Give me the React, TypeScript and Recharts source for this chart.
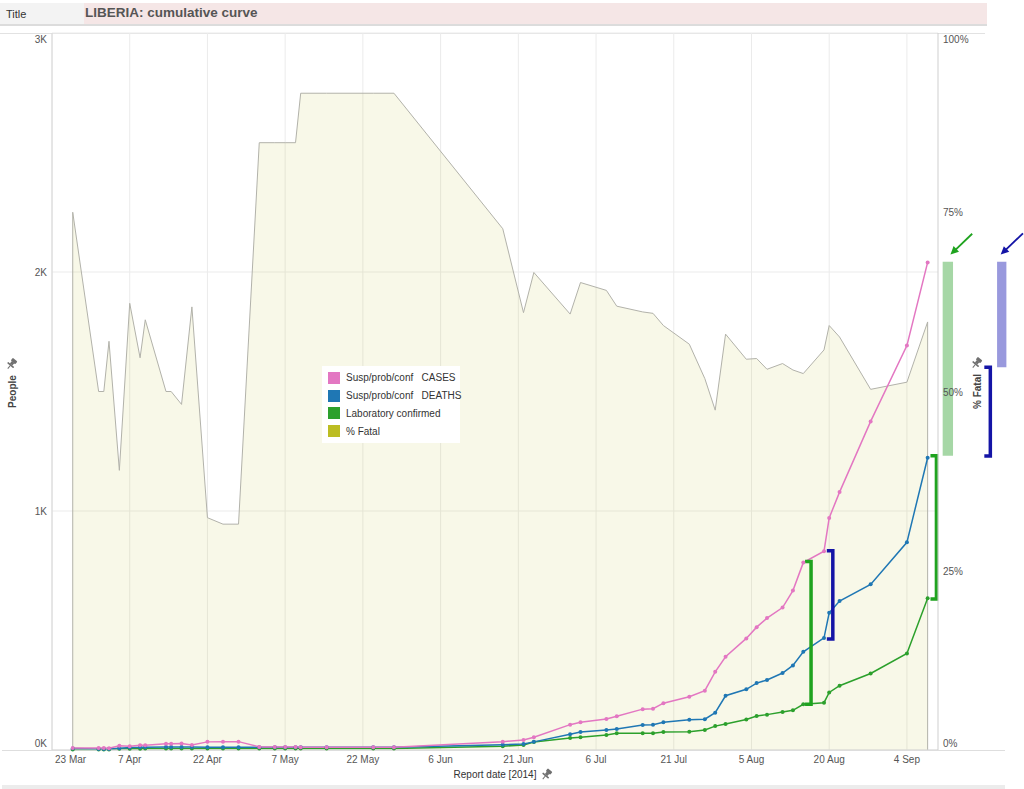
import React from 'react'
import {
  ComposedChart,
  Area,
  Line,
  XAxis,
  YAxis,
  CartesianGrid,
  Legend,
  ReferenceLine,
  ReferenceArea,
} from 'recharts'

// WHO situation-report dates for Liberia (2014)
const reportDates = [
  '2014-03-27', '2014-04-01', '2014-04-02', '2014-04-03', '2014-04-05', '2014-04-07', '2014-04-09',
  '2014-04-10', '2014-04-14', '2014-04-15', '2014-04-17', '2014-04-19', '2014-04-22', '2014-04-25',
  '2014-04-28', '2014-05-02', '2014-05-05', '2014-05-07', '2014-05-09', '2014-05-10', '2014-05-15',
  '2014-05-24', '2014-05-28', '2014-06-18', '2014-06-22', '2014-06-24', '2014-07-01', '2014-07-03',
  '2014-07-08', '2014-07-10', '2014-07-15', '2014-07-17', '2014-07-19', '2014-07-24', '2014-07-27',
  '2014-07-29', '2014-07-31', '2014-08-04', '2014-08-06', '2014-08-08', '2014-08-11', '2014-08-13',
  '2014-08-15', '2014-08-19', '2014-08-20', '2014-08-22', '2014-08-28', '2014-09-04', '2014-09-08',
]

const cases = [
  8, 8, 8, 7, 18, 16, 20, 20, 26, 26, 27, 21, 34, 35, 35, 13, 13, 13, 13, 12, 12, 12, 12,
  35, 42, 53, 106, 116, 130, 141, 171, 173, 196, 223, 248, 327, 390, 467, 514, 552, 596, 667,
  784, 832, 971, 1079, 1375, 1692, 2040,
]

const deaths = [
  6, 4, 4, 4, 7, 10, 11, 12, 13, 13, 13, 13, 11, 11, 11, 11, 11, 11, 11, 11, 11, 11, 11,
  22, 25, 34, 66, 75, 84, 88, 105, 106, 116, 127, 129, 156, 227, 254, 280, 293, 322, 354,
  411, 469, 574, 623, 693, 869, 1223,
]

const labConfirmed = [
  2, 2, 2, 2, 5, 5, 5, 6, 6, 6, 6, 6, 6, 6, 6, 6, 6, 6, 6, 6, 6, 6, 6,
  16, 21, 33, 50, 53, 63, 70, 70, 70, 75, 76, 84, 100, 109, 128, 142, 148, 159, 166,
  191, 198, 241, 269, 320, 404, 635,
]

const pctFatal = [
  75, 50, 50, 57, 39, 62.3, 54.7, 60, 50, 50, 48.2, 61.8, 32.4, 31.5, 31.5, 84.7, 84.7, 84.7, 84.7,
  91.6, 91.6, 91.6, 91.6, 72.7, 61, 66.6, 60.8, 65.2, 64.1, 61.9, 61.1, 60.9, 59.2, 56.6, 51.8,
  47.4, 58, 54.5, 54.6, 53.1, 53.9, 53, 52.5, 55.8, 59.2, 57.6, 50.3, 51.3, 59.7,
]

const seriesNames = ['Susp/prob/conf   CASES', 'Susp/prob/conf   DEATHS', 'Laboratory confirmed', '% Fatal']
const seriesColors = ['#e377c2', '#1f77b4', '#2ca02c', '#bcbd22']

const axisStart = '2014-03-23'
const dateTickDays = [0, 15, 30, 45, 60, 75, 90, 105, 120, 135, 150, 165]
const dateTickLabels = ['23 Mar', '7 Apr', '22 Apr', '7 May', '22 May', '6 Jun', '21 Jun', '6 Jul', '21 Jul', '5 Aug', '20 Aug', '4 Sep']
const peopleTicks = [0, 1000, 2000, 3000]
const peopleTickLabels = ['0K', '1K', '2K', '3K']
const pctTicks = [0, 25, 50, 75, 100]
const pctTickLabels = ['0%', '25%', '50%', '75%', '100%']

const dayOf = (d: string) => (Date.parse(d) - Date.parse(axisStart)) / 86400000

const data = reportDates.map((d, i) => ({
  day: dayOf(d),
  cases: cases[i],
  deaths: deaths[i],
  lab: labConfirmed[i],
  fatal: pctFatal[i],
}))

const firstDay = data[0].day
const lastDay = data[data.length - 1].day

const FONT = '"Liberation Sans", Arial, sans-serif'
const GREEN_MARK = '#1fa31f'
const BLUE_MARK = '#1414a6'

function Pin({ x, y }: { x: number; y: number }) {
  return (
    <g transform={`translate(${x},${y}) rotate(40)`} fill="#707070">
      <rect x={-3} y={-5} width={6} height={3.5} rx={1} />
      <rect x={-1.6} y={-1.8} width={3.2} height={3.2} />
      <rect x={-4} y={1.2} width={8} height={1.6} rx={0.5} />
      <rect x={-0.5} y={2.6} width={1} height={4} />
    </g>
  )
}

function DateTick({ x, y, payload }: any) {
  const i = dateTickDays.indexOf(payload.value)
  const first = i === 0
  return (
    <text x={first ? x + 3 : x} y={y} dy={9} textAnchor={first ? 'start' : 'middle'} fontSize={10} fill="#555" fontFamily={FONT}>
      {dateTickLabels[i]}
    </text>
  )
}

const valueTick = (values: number[], labels: string[], anchor: 'start' | 'end') => ({ x, y, payload }: any) => {
  const i = values.indexOf(payload.value)
  const dy = i === values.length - 1 ? 10 : i === 0 ? -3 : 4
  return (
    <text x={x} y={y} dy={dy} textAnchor={anchor} fontSize={10} fill="#555" fontFamily={FONT}>
      {labels[i]}
    </text>
  )
}

function PeopleLabel({ viewBox }: any) {
  const cx = viewBox.x + 16
  const cy = viewBox.y + viewBox.height / 2
  return (
    <g>
      <text x={cx} y={cy} transform={`rotate(-90 ${cx} ${cy})`} textAnchor="middle" fontSize={10} fontWeight="bold" fill="#444" fontFamily={FONT}>
        People
      </text>
      <Pin x={cx - 4} y={cy - 28} />
    </g>
  )
}

function FatalLabel({ viewBox }: any) {
  const cx = viewBox.x + 43
  const cy = viewBox.y + viewBox.height / 2
  return (
    <g>
      <text x={cx} y={cy} transform={`rotate(-90 ${cx} ${cy})`} textAnchor="middle" fontSize={10} fontWeight="bold" fill="#444" fontFamily={FONT}>
        % Fatal
      </text>
      <Pin x={cx - 4} y={cy - 29} />
    </g>
  )
}

function DateLabel({ viewBox }: any) {
  const cx = viewBox.x + viewBox.width / 2
  const y = viewBox.y + 28
  return (
    <g>
      <text x={cx} y={y} textAnchor="middle" fontSize={10} fill="#333" fontFamily={FONT}>
        Report date [2014]
      </text>
      <Pin x={cx + 52} y={y - 4} />
    </g>
  )
}

function LegendBox() {
  return (
    <div style={{ background: '#fff', padding: '3px 6px', fontFamily: FONT, fontSize: 10, color: '#333' }}>
      {seriesNames.map((n, i) => (
        <div key={n} style={{ display: 'flex', alignItems: 'center', height: 17.8 }}>
          <span style={{ width: 12, height: 12, background: seriesColors[i], marginRight: 6, flex: 'none' }} />
          <span style={{ whiteSpace: 'pre' }}>{n}</span>
        </div>
      ))}
    </div>
  )
}

const bracket = (color: string) => (p: any) => (
  <path d={`M${p.x1 - 6},${p.y1} H${p.x1} V${p.y2} H${p.x1 - 6}`} stroke={color} strokeWidth={3.5} fill="none" />
)

const arrow = (color: string) => (p: any) => {
  const a = Math.atan2(p.y2 - p.y1, p.x2 - p.x1)
  const L = 9
  const s = 0.45
  const pts = [
    [p.x2, p.y2],
    [p.x2 - L * Math.cos(a - s), p.y2 - L * Math.sin(a - s)],
    [p.x2 - L * Math.cos(a + s), p.y2 - L * Math.sin(a + s)],
  ]
  return (
    <g>
      <line x1={p.x1} y1={p.y1} x2={p.x2 - 4 * Math.cos(a)} y2={p.y2 - 4 * Math.sin(a)} stroke={color} strokeWidth={1.8} />
      <polygon points={pts.map((q) => q.join(',')).join(' ')} fill={color} />
    </g>
  )
}

export default function App() {
  return (
    <div style={{ position: 'relative', width: 1024, height: 789, background: '#fff', fontFamily: FONT, overflow: 'hidden' }}>
      <style>{'body{margin:0}'}</style>
      {/* dashboard title strip */}
      <div style={{ position: 'absolute', left: 0, top: 3, width: 84, height: 21, background: '#f3f3f3', fontSize: 11, color: '#333', lineHeight: '22px', paddingLeft: 6, boxSizing: 'border-box' }}>
        Title
      </div>
      <div style={{ position: 'absolute', left: 84, top: 3, width: 903, height: 21, background: '#f5e6e6', fontSize: 13.5, fontWeight: 'bold', color: '#555', lineHeight: '20px', paddingLeft: 1, boxSizing: 'border-box' }}>
        LIBERIA: cumulative curve
      </div>
      <div style={{ position: 'absolute', left: 0, top: 24, width: 987, height: 2, background: '#dcdcdc' }} />
      <div style={{ position: 'absolute', left: 0, top: 33, width: 985, height: 1, background: '#e2e2e2' }} />
      <div style={{ position: 'absolute', left: 2, top: 750, width: 1003, height: 1, background: '#dedede' }} />
      <div style={{ position: 'absolute', left: 2, top: 785, width: 1003, height: 4, background: '#ececec' }} />

      <div style={{ position: 'absolute', left: 0, top: 0 }}>
        <ComposedChart width={1024} height={789} data={data} margin={{ top: 33, right: 34, bottom: 3, left: 0 }}>
          <CartesianGrid yAxisId="people" stroke="#ebebeb" horizontalValues={peopleTicks} verticalValues={dateTickDays} />
          <XAxis
            dataKey="day"
            type="number"
            domain={[0, 171]}
            ticks={dateTickDays}
            interval={0}
            height={36}
            tickSize={4}
            tickMargin={0}
            tickLine={false}
            axisLine={{ stroke: '#d6d6d6' }}
            tick={<DateTick />}
            label={<DateLabel />}
          />
          <YAxis
            yAxisId="people"
            domain={[0, 3000]}
            ticks={peopleTicks}
            interval={0}
            width={52}
            tickSize={5}
            tickMargin={0}
            tickLine={false}
            axisLine={{ stroke: '#d6d6d6' }}
            tick={valueTick(peopleTicks, peopleTickLabels, 'end')}
            label={<PeopleLabel />}
          />
          <YAxis
            yAxisId="pct"
            orientation="right"
            domain={[0, 100]}
            ticks={pctTicks}
            interval={0}
            width={52}
            tickSize={5}
            tickMargin={0}
            tickLine={false}
            axisLine={{ stroke: '#cfcfcf' }}
            tick={valueTick(pctTicks, pctTickLabels, 'start')}
            label={<FatalLabel />}
          />

          <Area
            yAxisId="pct"
            type="linear"
            dataKey="fatal"
            name={seriesNames[3]}
            stroke="#b2b2aa"
            strokeWidth={1}
            fill={seriesColors[3]}
            fillOpacity={0.1}
            isAnimationActive={false}
            dot={false}
            activeDot={false}
          />
          <ReferenceLine yAxisId="pct" segment={[{ x: firstDay, y: 0 }, { x: firstDay, y: pctFatal[0] }]} stroke="#b2b2aa" strokeWidth={1} />
          <ReferenceLine yAxisId="pct" segment={[{ x: lastDay, y: 0 }, { x: lastDay, y: pctFatal[pctFatal.length - 1] }]} stroke="#b2b2aa" strokeWidth={1} />

          <Line yAxisId="people" type="linear" dataKey="lab" name={seriesNames[2]} stroke={seriesColors[2]} strokeWidth={1.5} dot={{ r: 2, fill: seriesColors[2], stroke: 'none' }} activeDot={false} isAnimationActive={false} />
          <Line yAxisId="people" type="linear" dataKey="deaths" name={seriesNames[1]} stroke={seriesColors[1]} strokeWidth={1.5} dot={{ r: 2, fill: seriesColors[1], stroke: 'none' }} activeDot={false} isAnimationActive={false} />
          <Line yAxisId="people" type="linear" dataKey="cases" name={seriesNames[0]} stroke={seriesColors[0]} strokeWidth={1.5} dot={{ r: 2, fill: seriesColors[0], stroke: 'none' }} activeDot={false} isAnimationActive={false} />

          {/* annotation brackets, bars and arrows */}
          <ReferenceLine yAxisId="people" ifOverflow="visible" segment={[{ x: 146.5, y: 789 }, { x: 146.5, y: 191 }]} shape={bracket(GREEN_MARK)} />
          <ReferenceLine yAxisId="people" ifOverflow="visible" segment={[{ x: 150.7, y: 834 }, { x: 150.7, y: 464 }]} shape={bracket(BLUE_MARK)} />
          <ReferenceLine yAxisId="people" ifOverflow="visible" segment={[{ x: 170.7, y: 1231 }, { x: 170.7, y: 632 }]} shape={bracket(GREEN_MARK)} />
          <ReferenceArea yAxisId="people" ifOverflow="visible" x1={171.9} x2={173.9} y1={1231} y2={2043} fill="#2ca02c" fillOpacity={0.42} stroke="none" />
          <ReferenceArea yAxisId="people" ifOverflow="visible" x1={182.4} x2={184.2} y1={1601} y2={2043} fill="#3333bb" fillOpacity={0.5} stroke="none" />
          <ReferenceLine yAxisId="people" ifOverflow="visible" segment={[{ x: 181.1, y: 1601 }, { x: 181.1, y: 1230 }]} shape={bracket(BLUE_MARK)} />
          <ReferenceLine yAxisId="people" ifOverflow="visible" segment={[{ x: 177.6, y: 2160 }, { x: 173.4, y: 2073 }]} shape={arrow(GREEN_MARK)} />
          <ReferenceLine yAxisId="people" ifOverflow="visible" segment={[{ x: 187.4, y: 2162 }, { x: 183.1, y: 2073 }]} shape={arrow(BLUE_MARK)} />

          <Legend
            layout="vertical"
            align="center"
            verticalAlign="middle"
            content={<LegendBox />}
            wrapperStyle={{ left: 322, top: 366, width: 138, height: 73 }}
          />
        </ComposedChart>
      </div>
    </div>
  )
}
